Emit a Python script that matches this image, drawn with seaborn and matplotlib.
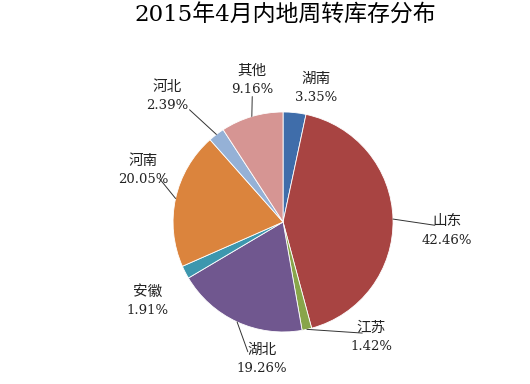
import numpy as np
import matplotlib
matplotlib.use("Agg")
import matplotlib.pyplot as plt
import seaborn as sns

# data
regions = ["湖南", "山东", "江苏", "湖北", "安徽", "河南", "河北", "其他"]
shares = [3.35, 42.46, 1.42, 19.26, 1.91, 20.05, 2.39, 9.16]
title = "2015年4月内地周转库存分布"

# layout (pie radius = 1): label centers, leader line end points (None = no line)
label_pos = [(0.30, 1.22), (1.49, -0.08), (0.80, -1.05), (-0.19, -1.25),
             (-1.23, -0.72), (-1.27, 0.47), (-1.05, 1.14), (-0.28, 1.29)]
leader_end = [None, (1.38, -0.03), (0.72, -1.01), (-0.32, -1.18),
              None, (-1.12, 0.39), (-0.85, 1.02), (-0.28, 1.14)]

sns.set_theme(style="white")
plt.rcParams['font.family'] = ['DejaVu Serif', 'Noto Sans CJK SC']

colors = sns.color_palette(["#3F6DAA", "#A84442", "#88A54A", "#70578F",
                            "#3D97AE", "#DB843D", "#95B1D6", "#D69593"])

fig = plt.figure(figsize=(5.3, 3.84), dpi=100)
ax = fig.add_axes([0, 0, 1, 1])

wedges, _ = ax.pie(shares, colors=colors, startangle=90, counterclock=False,
                   radius=1.0, wedgeprops=dict(edgecolor="white", linewidth=0.6))

ax.set_xlim(-2.573, 2.245)
ax.set_ylim(-1.473, 2.018)
ax.set_aspect("equal")
ax.axis("off")

for w, name, val, pos, end in zip(wedges, regions, shares, label_pos, leader_end):
    mid = np.deg2rad((w.theta1 + w.theta2) / 2)
    ex, ey = np.cos(mid), np.sin(mid)
    ax.text(pos[0], pos[1] + 0.085, name, ha="center", va="center",
            fontsize=10.5, color="#222222")
    ax.text(pos[0], pos[1] - 0.085, f"{val:.2f}%", ha="center", va="center",
            fontsize=9.5, color="#222222")
    if end is not None:
        ax.plot([ex, end[0]], [ey, end[1]], color="#333333", lw=0.7)

fig.text(0.538, 0.958, title, ha="center", va="center", fontsize=16.5, color="black")

fig.savefig("out.png", dpi=100)
